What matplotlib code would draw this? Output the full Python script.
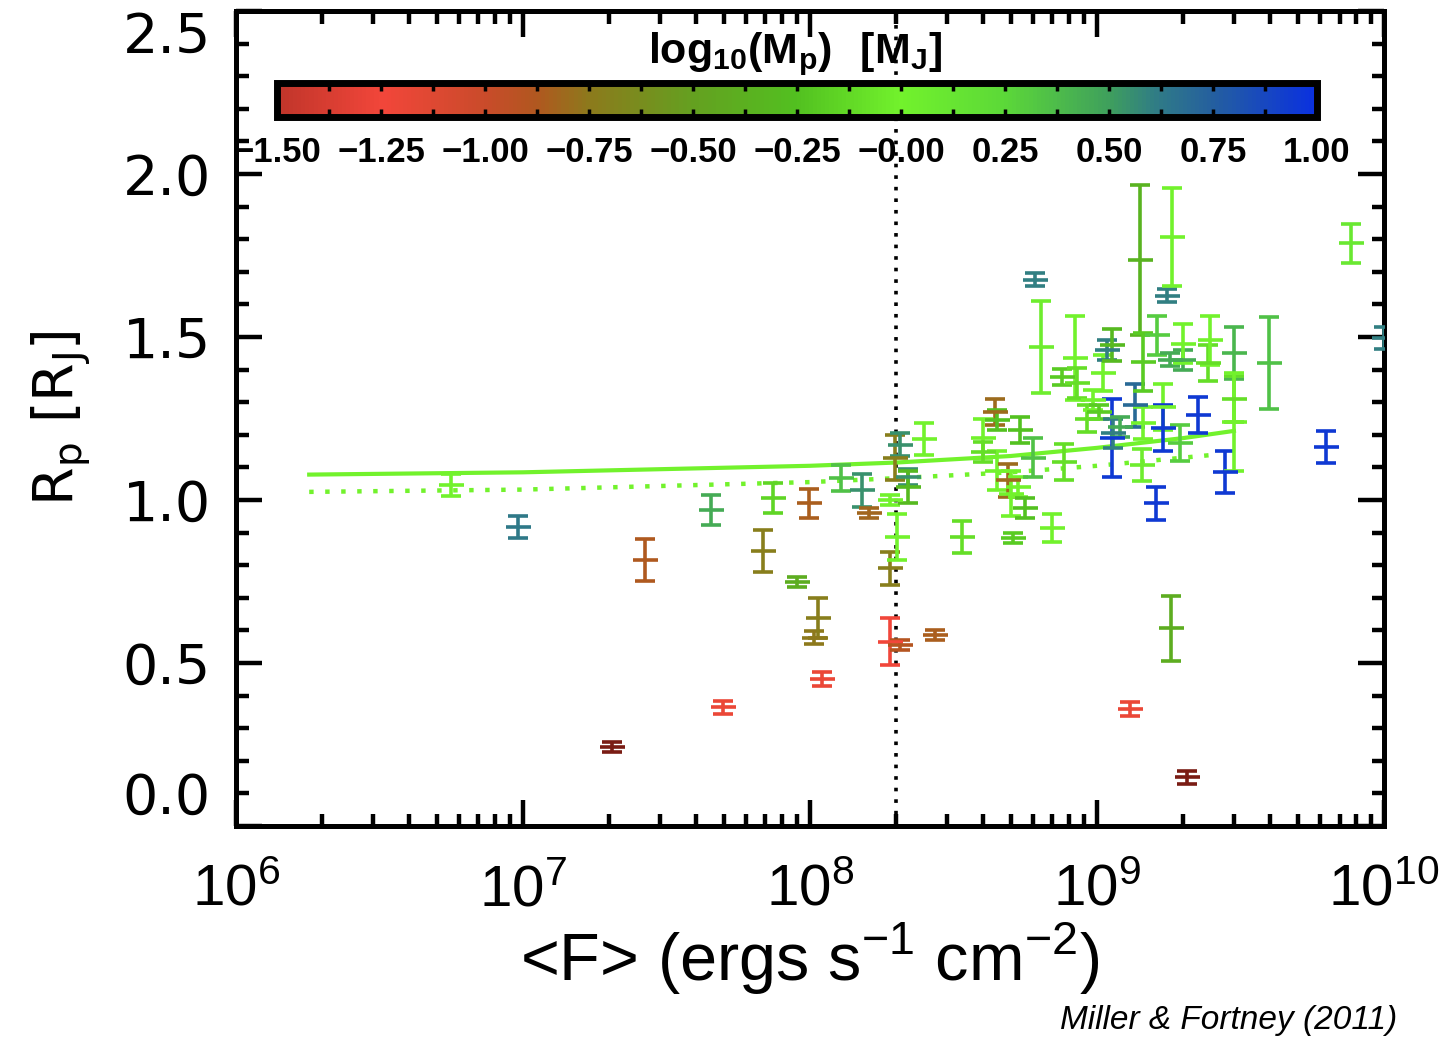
import matplotlib
matplotlib.use("Agg")
import matplotlib.pyplot as plt
from matplotlib.colors import LinearSegmentedColormap, Normalize
from matplotlib.cm import ScalarMappable
from matplotlib.ticker import (LogLocator, MultipleLocator, FixedLocator,
                               NullFormatter, FormatStrFormatter)

plt.rcParams['mathtext.fontset'] = 'custom'
plt.rcParams['mathtext.rm'] = 'Liberation Sans'
plt.rcParams['mathtext.bf'] = 'Liberation Sans:bold'

# planetas: flujo medio, radio, error del radio, log10 de la masa
flujo = [5.6e6, 9.6e6, 2.04e7, 2.66e7, 4.52e7, 4.98e7, 6.86e7, 7.43e7, 9.0e7, 9.9e7,
         1.03e8, 1.07e8, 1.1e8, 1.28e8, 1.52e8, 1.6e8, 1.9e8, 1.9e8, 1.9e8, 1.98e8,
         2.01e8, 2.06e8, 2.06e8, 2.19e8, 2.19e8, 2.5e8, 2.73e8, 3.39e8, 4.0e8, 4.0e8,
         4.4e8, 4.5e8, 4.5e8, 4.9e8, 5.0e8, 5.1e8, 5.3e8, 5.4e8, 5.6e8, 6.0e8,
         6.08e8, 6.4e8, 7.0e8, 7.55e8, 7.7e8, 8.4e8, 8.5e8, 9.2e8, 9.7e8, 1.02e9,
         1.05e9, 1.08e9, 1.13e9, 1.13e9, 1.14e9, 1.2e9, 1.3e9, 1.36e9, 1.41e9, 1.43e9,
         1.45e9, 1.45e9, 1.61e9, 1.62e9, 1.7e9, 1.7e9, 1.75e9, 1.8e9, 1.81e9, 1.82e9,
         1.95e9, 2.0e9, 2.0e9, 2.06e9, 2.25e9, 2.43e9, 2.48e9, 2.8e9, 3.0e9, 3.0e9,
         3.0e9, 3.98e9, 6.3e9, 7.7e9, 1.0e10]
radio = [1.046, 0.917, 0.242, 0.816, 0.969, 0.365, 0.843, 1.006, 0.748, 0.99,
         0.577, 0.638, 0.451, 1.067, 1.03, 0.96, 1.0, 0.79, 0.565, 1.13,
         0.886, 1.17, 0.555, 1.07, 1.04, 1.187, 0.586, 0.886, 1.19, 1.147,
         1.27, 1.245, 1.09, 1.06, 1.02, 0.883, 1.04, 1.215, 0.975, 1.13,
         1.675, 1.469, 0.913, 1.377, 1.117, 1.436, 1.359, 1.25, 1.307, 1.27,
         1.39, 1.46, 1.475, 1.19, 1.205, 1.224, 0.359, 1.29, 1.736, 1.107,
         1.423, 1.236, 0.99, 1.505, 1.285, 1.22, 1.626, 1.43, 0.607, 1.807,
         1.175, 1.43, 1.48, 0.15, 1.26, 1.42, 1.49, 1.086, 1.45, 1.31,
         1.24, 1.42, 1.163, 1.788, 1.497]
error_radio = [0.035, 0.035, 0.015, 0.065, 0.045, 0.02, 0.065, 0.045, 0.015, 0.045,
               0.02, 0.06, 0.02, 0.04, 0.05, 0.015, 0.015, 0.05, 0.072, 0.07,
               0.07, 0.035, 0.015, 0.025, 0.05, 0.05, 0.015, 0.05, 0.06, 0.03,
               0.04, 0.03, 0.06, 0.05, 0.07, 0.015, 0.03, 0.04, 0.03, 0.06,
               0.02, 0.14, 0.043, 0.025, 0.056, 0.13, 0.045, 0.04, 0.03, 0.02,
               0.055, 0.03, 0.05, 0.12, 0.045, 0.03, 0.02, 0.065, 0.23, 0.05,
               0.09, 0.05, 0.05, 0.06, 0.07, 0.07, 0.02, 0.02, 0.1, 0.15,
               0.055, 0.03, 0.06, 0.02, 0.055, 0.055, 0.075, 0.065, 0.08, 0.07,
               0.15, 0.14, 0.05, 0.06, 0.035]
log_masa = [0.0, 0.62, -1.7, -0.87, 0.45, -1.2, -0.72, -0.15, -0.4, -0.85,
            -0.75, -0.72, -1.2, 0.35, 0.55, -0.82, 0.0, -0.72, -1.25, -0.72,
            0.0, 0.55, -0.9, 0.55, -0.3, 0.0, -0.85, -0.1, 0.0, -0.1,
            -0.8, -0.25, 0.0, -0.8, 0.0, -0.2, 0.0, -0.25, -0.25, 0.35,
            0.6, 0.05, 0.0, -0.2, -0.1, 0.0, -0.1, -0.1, 0.0, -0.2,
            0.0, 0.6, -0.3, 0.95, 0.6, 0.45, -1.2, 0.7, -0.35, 0.05,
            -0.2, 0.0, 0.95, 0.3, 0.0, 0.95, 0.6, 0.45, -0.4, 0.0,
            0.3, 0.45, 0.0, -1.7, 0.95, -0.1, 0.0, 0.95, 0.4, -0.1,
            0.0, 0.35, 0.95, 0.1, 0.6]

# curvas del modelo
modelo_flujo = [1.8e6, 1e7, 1e8, 2e8, 5e8, 1e9, 2e9, 3e9]
modelo_radio = [1.078, 1.085, 1.105, 1.115, 1.135, 1.16, 1.19, 1.212]
modelo2_flujo = [1.8e6, 1e7, 1e8, 2e8, 5e8, 1e9, 2.5e9]
modelo2_radio = [1.025, 1.032, 1.055, 1.067, 1.085, 1.105, 1.138]

flujo_corte = 2e8

ticks_y = [0.0, 0.5, 1.0, 1.5, 2.0, 2.5]
cbar_ticks = [-1.5, -1.25, -1.0, -0.75, -0.5, -0.25, 0.0, 0.25, 0.5, 0.75, 1.0]
cbar_etiquetas = ['−1.50', '−1.25', '−1.00', '−0.75', '−0.50', '−0.25', '−0.00',
                  '0.25', '0.50', '0.75', '1.00']

# mapa de colores rojo-verde-azul
colores = [(0.0, '#c0352a'), (0.1, '#f2463a'), (0.2, '#c94b2a'), (0.25, '#b0581f'),
           (0.3, '#8c7a1c'), (0.4, '#64a020'), (0.5, '#52c020'), (0.6, '#72f22c'),
           (0.7, '#5cd838'), (0.8, '#3fa05c'), (0.85, '#2f7a88'), (0.9, '#25609e'),
           (1.0, '#0a30e0')]
cmap = LinearSegmentedColormap.from_list('masa', colores)
cmap.set_under('#7a1c14')
norm = Normalize(vmin=-1.5, vmax=1.0)

fig = plt.figure(figsize=(14.51, 10.38), dpi=100)
ax = fig.add_axes([0.1626, 0.2042, 0.7912, 0.7852])

ax.axvline(flujo_corte, color='black', ls=(0, (1, 2.2)), lw=2.6, zorder=1)

for f, r, e, m in zip(flujo, radio, error_radio, log_masa):
    c = cmap(norm(m))
    ax.errorbar(f, r, yerr=e, fmt='_', color=c, ms=18, mew=2.6,
                elinewidth=2.6, capsize=7.5, capthick=2.6, zorder=3)

ax.plot(modelo_flujo, modelo_radio, color='#72f22c', lw=3, zorder=2)
ax.plot(modelo2_flujo, modelo2_radio, color='#72f22c', lw=3.2, ls=(0, (1, 2.6)), zorder=2)

ax.set_xscale('log')
ax.set_xlim(1e6, 1e10)
ax.set_ylim(0, 2.5)
ax.xaxis.set_major_locator(LogLocator(base=10, numticks=10))
ax.xaxis.set_minor_locator(LogLocator(base=10, subs=range(2, 10), numticks=50))
ax.xaxis.set_minor_formatter(NullFormatter())
ax.yaxis.set_major_locator(FixedLocator(ticks_y))
ax.yaxis.set_minor_locator(MultipleLocator(0.1))
ax.yaxis.set_major_formatter(FormatStrFormatter('%.1f'))

ax.tick_params(which='both', direction='in', top=True, right=True, width=3.2)
ax.tick_params(which='major', length=19)
ax.tick_params(which='minor', length=9)
ax.tick_params(axis='x', which='major', pad=27, labelsize=42)
ax.tick_params(axis='y', which='major', pad=18, labelsize=40)
for lab in ax.get_xticklabels():
    lab.set_fontfamily('Liberation Sans')
etiquetas_y = ax.get_yticklabels()
for lab in etiquetas_y:
    lab.set_fontfamily('DejaVu Sans')
# las etiquetas de los extremos quedan dentro del eje
etiquetas_y[0].set_verticalalignment('bottom')
etiquetas_y[-1].set_verticalalignment('top')
for sp in ax.spines.values():
    sp.set_linewidth(3.6)

ax.set_xlabel(r'<F> (ergs s$^{-1}$ cm$^{-2}$)', fontsize=48,
              fontfamily='Liberation Sans', labelpad=2)
ax.set_ylabel(r'$\mathdefault{R_p\ [R_J]}$', fontsize=40,
              fontfamily='DejaVu Sans', labelpad=22)

# barra de colores dentro del panel
cax = fig.add_axes([0.1909, 0.8873, 0.7167, 0.0328])
cb = fig.colorbar(ScalarMappable(norm=norm, cmap=cmap), cax=cax, orientation='horizontal')
cb.outline.set_linewidth(5)
cb.set_ticks(cbar_ticks)
cb.set_ticklabels(cbar_etiquetas)
cax.xaxis.set_minor_locator(MultipleLocator(0.125))
cax.tick_params(axis='x', which='both', direction='in', top=True, bottom=True,
                length=6, width=2.5)
cax.tick_params(axis='x', which='major', pad=14, labelsize=25)
for lab in cax.get_xticklabels():
    lab.set_fontfamily('Liberation Sans')
    lab.set_fontweight('bold')

fig.text(0.548, 0.948, r'$\mathbf{log_{10}(M_p)\ \ [M_J]}$', fontsize=31,
         ha='center', va='center')

fig.text(0.9628, 0.0173, 'Miller & Fortney (2011)', fontsize=24, style='italic',
         fontfamily='Liberation Sans', ha='right', va='center')

fig.savefig('out.png', dpi=100)
